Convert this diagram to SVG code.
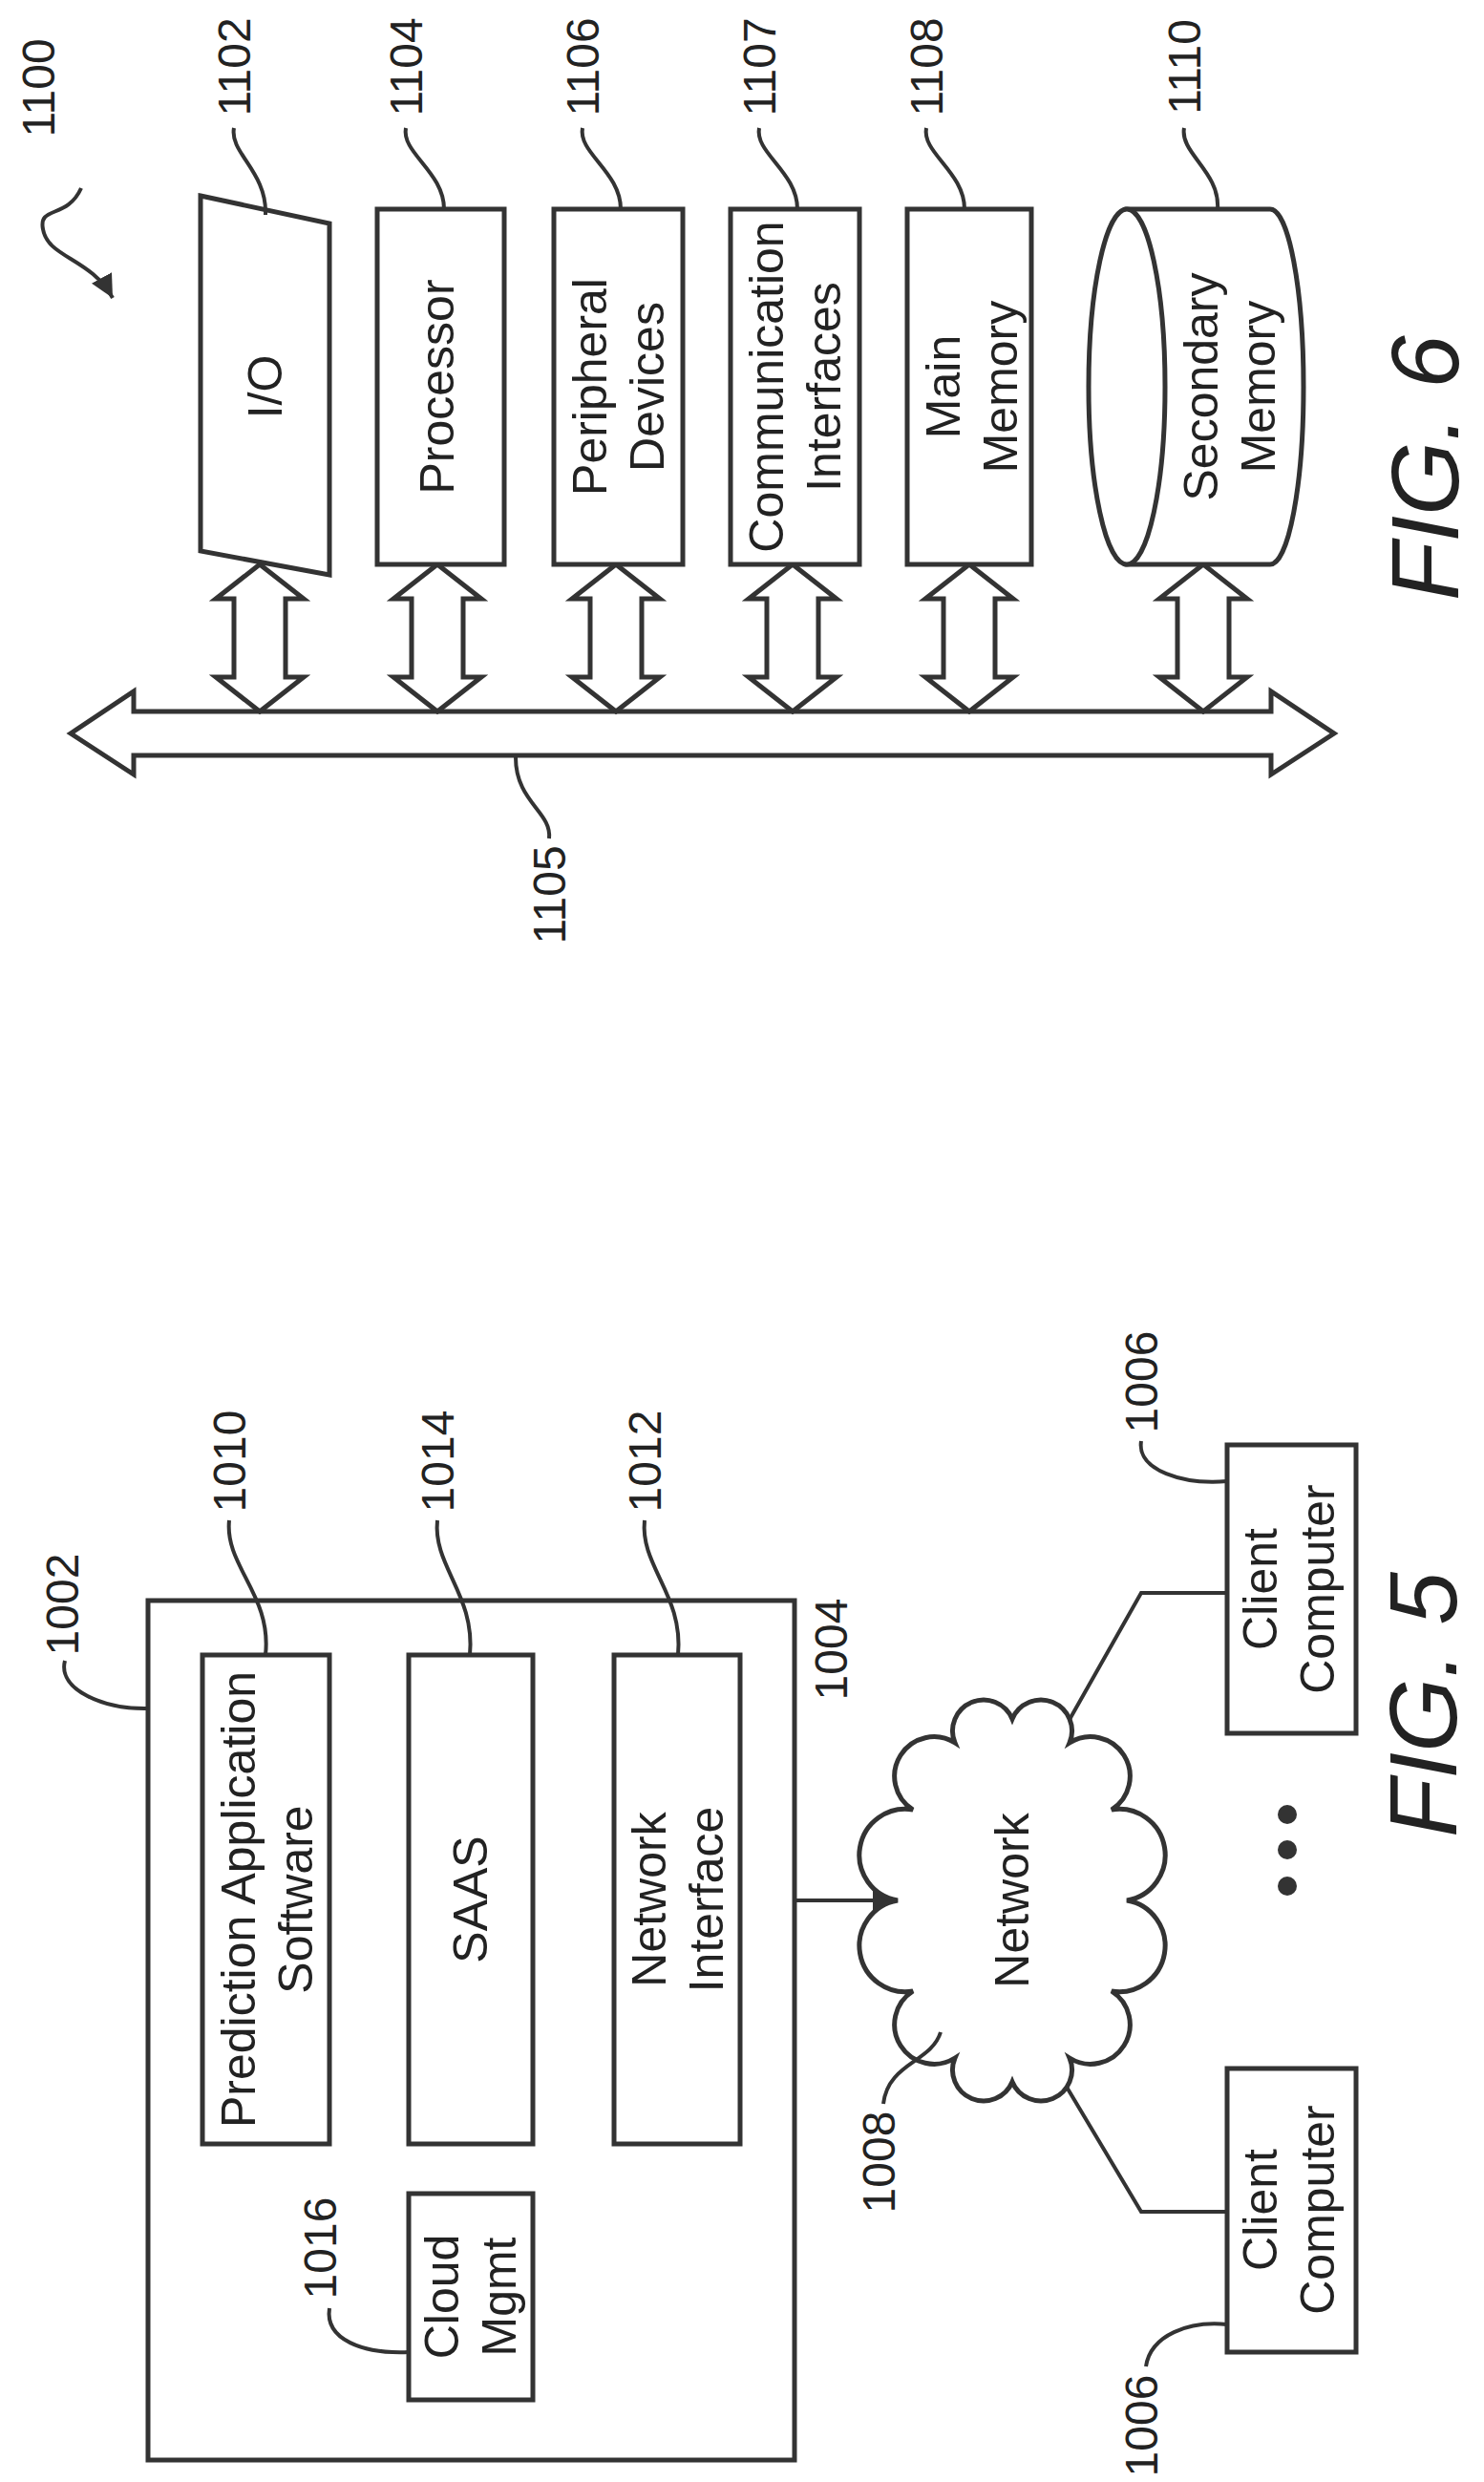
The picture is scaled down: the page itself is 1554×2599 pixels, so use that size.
<svg xmlns="http://www.w3.org/2000/svg" width="1554" height="2599" viewBox="0 0 1554 2599">
<style>
.s{fill:#fff;stroke:#333;stroke-width:5}
.l{fill:none;stroke:#333;stroke-width:4}
.t{font-family:"Liberation Sans",Arial,sans-serif;font-size:50px;fill:#222;text-anchor:middle;dominant-baseline:central}
.n{font-family:"Liberation Sans",Arial,sans-serif;font-size:48px;fill:#222;text-anchor:middle;dominant-baseline:central}
.f{font-family:"Liberation Sans",Arial,sans-serif;font-size:100px;font-style:italic;fill:#222;text-anchor:middle;dominant-baseline:central}
</style>
<defs>
<path id="va" d="M0,0 L46,36 L27,36 L27,118 L46,118 L0,154 L-46,118 L-27,118 L-27,36 L-46,36 Z"/>
<marker id="ah" viewBox="0 0 10 10" refX="10" refY="5" markerWidth="6" markerHeight="6" orient="auto" markerUnits="strokeWidth"><path d="M0,0 L10,5 L0,10 Z" fill="#333"/></marker>
</defs>
<rect width="1554" height="2599" fill="#fff"/>

<!-- FIG 6 -->
<g id="connectors6">
<path class="s" d="M74,768 L140,724 L140,745 L1331,745 L1331,724 L1397,768 L1331,811 L1331,791 L140,791 L140,811 Z"/>
<use href="#va" class="s" x="272" y="591"/>
<use href="#va" class="s" x="458" y="591"/>
<use href="#va" class="s" x="645" y="591"/>
<use href="#va" class="s" x="830" y="591"/>
<use href="#va" class="s" x="1015" y="591"/>
<use href="#va" class="s" x="1260" y="591"/>
</g>
<g id="n1100"><text class="n" transform="rotate(-90 40 92)" x="40" y="92">1100</text>
<path class="l" d="M85,197 C70,230 40,215 45,240 C50,270 95,270 118,312" marker-end="url(#ah)"/></g>
<g id="n1102"><path class="s" d="M210,205 L345,234 L345,602 L210,577 Z"/>
<text class="t" transform="rotate(-90 278 405)" x="278" y="405">I/O</text>
<text class="n" transform="rotate(-90 245 70)" x="245" y="70">1102</text>
<path class="l" d="M245,134 C240,160 280,180 278,225"/></g>
<g id="n1104"><rect class="s" x="395" y="219" width="133" height="372"/>
<text class="t" transform="rotate(-90 458 405)" x="458" y="405">Processor</text>
<text class="n" transform="rotate(-90 425 70)" x="425" y="70">1104</text>
<path class="l" d="M425,134 C420,160 465,180 465,219"/></g>
<g id="n1106"><rect class="s" x="580" y="219" width="135" height="372"/>
<text class="t" transform="rotate(-90 618 405)" x="618" y="405">Peripheral</text>
<text class="t" transform="rotate(-90 678 405)" x="678" y="405">Devices</text>
<text class="n" transform="rotate(-90 610 70)" x="610" y="70">1106</text>
<path class="l" d="M610,134 C605,160 650,180 650,219"/></g>
<g id="n1107"><rect class="s" x="765" y="219" width="135" height="372"/>
<text class="t" transform="rotate(-90 803 405)" x="803" y="405">Communication</text>
<text class="t" transform="rotate(-90 863 405)" x="863" y="405">Interfaces</text>
<text class="n" transform="rotate(-90 795 70)" x="795" y="70">1107</text>
<path class="l" d="M795,134 C790,160 835,180 835,219"/></g>
<g id="n1108"><rect class="s" x="950" y="219" width="130" height="372"/>
<text class="t" transform="rotate(-90 988 405)" x="988" y="405">Main</text>
<text class="t" transform="rotate(-90 1048 405)" x="1048" y="405">Memory</text>
<text class="n" transform="rotate(-90 970 70)" x="970" y="70">1108</text>
<path class="l" d="M970,134 C965,160 1010,180 1010,219"/></g>
<g id="n1110"><path class="s" d="M1180,219 L1330,219 A35,186 0 0 1 1330,591 L1180,591 Z"/>
<ellipse class="s" cx="1180" cy="405" rx="40" ry="186"/>
<text class="t" transform="rotate(-90 1258 405)" x="1258" y="405">Secondary</text>
<text class="t" transform="rotate(-90 1318 405)" x="1318" y="405">Memory</text>
<text class="n" transform="rotate(-90 1240 70)" x="1240" y="70">1110</text>
<path class="l" d="M1240,134 C1235,160 1278,180 1275,219"/></g>
<g id="n1105"><text class="n" transform="rotate(-90 575 937)" x="575" y="937">1105</text>
<path class="l" d="M575,878 C578,850 540,840 540,793"/></g>
<text class="f" transform="rotate(-90 1492 490)" x="1492" y="490">FIG. 6</text>

<!-- FIG 5 -->
<g id="connectors5">
<path class="l" d="M775,1990 L938,1990" marker-end="url(#ah)"/>
<path class="l" d="M1105,1827 L1195,1668 L1285,1668"/>
<path class="l" d="M1100,2157 L1195,2316 L1285,2316"/>
</g>
<g id="n1004"><rect class="s" x="155" y="1676" width="677" height="900"/>
<text class="n" transform="rotate(-90 870 1727)" x="870" y="1727">1004</text></g>
<g id="n1002"><text class="n" transform="rotate(-90 65 1680)" x="65" y="1680">1002</text>
<path class="l" d="M68,1739 C60,1770 110,1790 155,1789"/></g>
<g id="n1010"><rect class="s" x="212" y="1733" width="133" height="512"/>
<text class="t" transform="rotate(-90 250 1989)" x="250" y="1989">Prediction Application</text>
<text class="t" transform="rotate(-90 310 1989)" x="310" y="1989">Software</text>
<text class="n" transform="rotate(-90 240 1530)" x="240" y="1530">1010</text>
<path class="l" d="M240,1592 C235,1640 285,1670 278,1733"/></g>
<g id="n1014"><rect class="s" x="428" y="1733" width="130" height="512"/>
<text class="t" transform="rotate(-90 493 1989)" x="493" y="1989">SAAS</text>
<text class="n" transform="rotate(-90 458 1530)" x="458" y="1530">1014</text>
<path class="l" d="M458,1592 C453,1640 498,1670 492,1733"/></g>
<g id="n1012"><rect class="s" x="643" y="1733" width="132" height="512"/>
<text class="t" transform="rotate(-90 680 1989)" x="680" y="1989">Network</text>
<text class="t" transform="rotate(-90 740 1989)" x="740" y="1989">Interface</text>
<text class="n" transform="rotate(-90 675 1530)" x="675" y="1530">1012</text>
<path class="l" d="M675,1592 C670,1640 716,1670 710,1733"/></g>
<g id="n1016"><rect class="s" x="428" y="2297" width="130" height="216"/>
<text class="t" transform="rotate(-90 463 2405)" x="463" y="2405">Cloud</text>
<text class="t" transform="rotate(-90 523 2405)" x="523" y="2405">Mgmt</text>
<text class="n" transform="rotate(-90 335 2354)" x="335" y="2354">1016</text>
<path class="l" d="M345,2417 C340,2450 380,2465 428,2463"/></g>
<g id="n1008"><path class="s" d="M1180,1990 A1,1 0 0 1 1164,2085 A1,1 0 0 1 1120,2155 A1,1 0 0 1 1060,2180 A1,1 0 0 1 1000,2155 A1,1 0 0 1 956,2085 A1,1 0 0 1 940,1990 A1,1 0 0 1 956,1895 A1,1 0 0 1 1000,1825 A1,1 0 0 1 1060,1800 A1,1 0 0 1 1120,1825 A1,1 0 0 1 1164,1895 A1,1 0 0 1 1180,1990 Z"/>
<text class="t" transform="rotate(-90 1060 1990)" x="1060" y="1990">Network</text>
<text class="n" transform="rotate(-90 920 2264)" x="920" y="2264">1008</text>
<path class="l" d="M925,2203 C930,2160 975,2160 985,2128"/></g>
<g id="n1006a"><rect class="s" x="1285" y="1513" width="135" height="302"/>
<text class="t" transform="rotate(-90 1320 1664)" x="1320" y="1664">Client</text>
<text class="t" transform="rotate(-90 1380 1664)" x="1380" y="1664">Computer</text>
<text class="n" transform="rotate(-90 1195 1447)" x="1195" y="1447">1006</text>
<path class="l" d="M1195,1509 C1190,1540 1240,1555 1285,1551"/></g>
<g id="n1006b"><rect class="s" x="1285" y="2166" width="135" height="297"/>
<text class="t" transform="rotate(-90 1320 2314)" x="1320" y="2314">Client</text>
<text class="t" transform="rotate(-90 1380 2314)" x="1380" y="2314">Computer</text>
<text class="n" transform="rotate(-90 1195 2540)" x="1195" y="2540">1006</text>
<path class="l" d="M1200,2478 C1205,2445 1245,2430 1285,2434"/></g>
<g id="dots"><circle cx="1348" cy="1900" r="10" fill="#333"/><circle cx="1348" cy="1937" r="10" fill="#333"/><circle cx="1348" cy="1975" r="10" fill="#333"/></g>
<text class="f" transform="rotate(-90 1490 1785)" x="1490" y="1785">FIG. 5</text>
</svg>
